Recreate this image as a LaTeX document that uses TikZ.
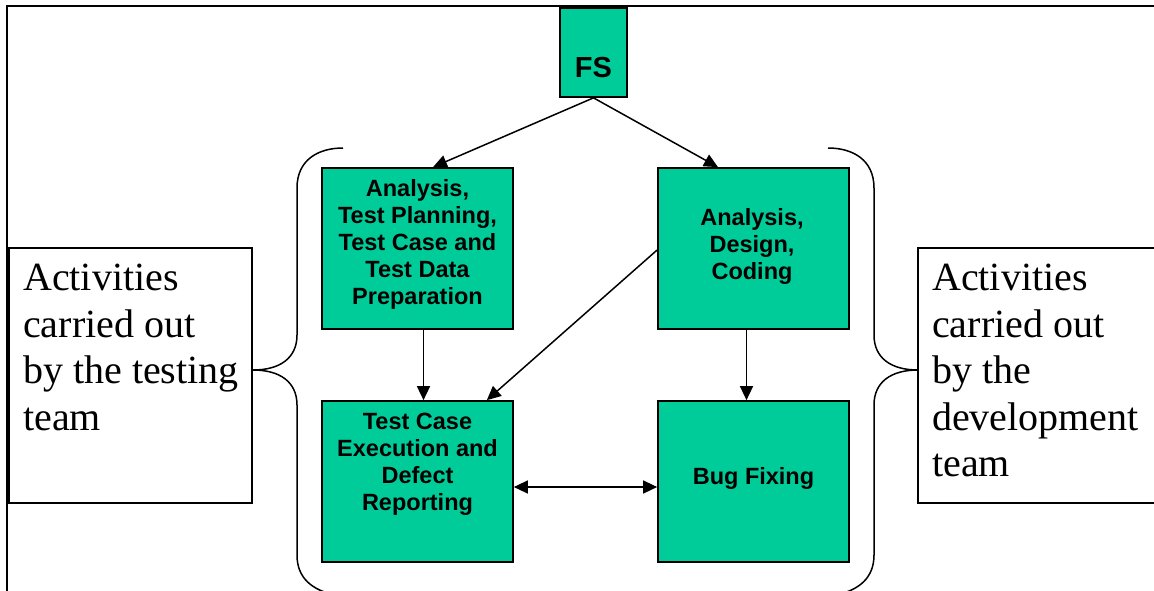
\documentclass[tikz,border=0pt]{standalone}
\usepackage{fontspec}
\setmainfont{Liberation Serif}
\newfontfamily\arialfont{Liberation Sans}
\usetikzlibrary{arrows.meta,calc}
\definecolor{boxgreen}{RGB}{0,204,153}
\begin{document}
\begin{tikzpicture}[x=1pt,y=-1pt,
  proc/.style={draw=black, line width=1.7pt, fill=boxgreen, minimum width=191pt, minimum height=161pt, inner sep=0pt},
  proctext/.style={font=\arialfont\bfseries\fontsize{23.5}{27}\selectfont, align=center, inner sep=0pt},
  fstext/.style={font=\arialfont\bfseries\fontsize{29}{32}\selectfont, inner sep=0pt},
  tbox/.style={draw=black, line width=1.5pt, fill=white, inner sep=0pt},
  ttext/.style={font=\fontsize{40}{46.5}\selectfont, align=left, inner sep=0pt, anchor=north west},
  conn/.style={line width=1.5pt, -{Triangle[length=14pt,width=13pt]}},
  dconn/.style={line width=1.5pt, {Triangle[length=14pt,width=13pt]}-{Triangle[length=14pt,width=13pt]}},
  bracepath/.style={line width=1.5pt}
]
\useasboundingbox (0,0) rectangle (1154,590);
\clip (0,0) rectangle (1154,590);
\fill[white] (0,0) rectangle (1154,590);
\draw[line width=2pt] (7,620) -- (7,6) -- (1180,6);

% process boxes
\node[proc, minimum width=67pt, minimum height=89pt] (fs) at (593.5,52.5) {};
\node[fstext] (fst) at (593.5,68) {FS};

\node[proc] (a) at (417.5,248.5) {};
\node[proctext] (at) at (417.5,244) {Analysis,\\Test Planning,\\Test Case and\\Test Data\\Preparation};

\node[proc] (b) at (753.5,248.5) {};
\node[proctext] (bt) at (752,246) {Analysis,\\Design,\\Coding};

\node[proc] (c) at (417.5,481.5) {};
\node[proctext] (ct) at (417.5,464.5) {Test Case\\Execution and\\Defect\\Reporting};

\node[proc] (d) at (753.5,481.5) {};
\node[proctext] (dt) at (753.5,478) {Bug Fixing};

% side text boxes
\node[tbox, minimum width=243pt, minimum height=255pt] (lbox) at (130.5,375.5) {};
\node[ttext] (ltxt) at (23,264) {Activities\\carried out\\by the testing\\team};

\node[tbox, minimum width=260pt, minimum height=255pt] (rbox) at (1048,375.5) {};
\node[ttext] (rtxt) at (932,264) {Activities\\carried out\\by the\\development\\team};

% braces
\draw[bracepath] (343,148) .. controls (318,148) and (297,160) .. (297,188) -- (297,335)
  .. controls (297,358) and (280,370) .. (253,370)
  .. controls (280,370) and (297,382) .. (297,405) -- (297,555)
  .. controls (297,578) and (312,590) .. (335,595);
\draw[bracepath] (828,148) .. controls (853,148) and (874,160) .. (874,188) -- (874,335)
  .. controls (874,358) and (891,370) .. (918,370)
  .. controls (891,370) and (874,382) .. (874,405) -- (874,555)
  .. controls (874,578) and (859,590) .. (836,595);

% connectors
\draw[conn] (fs.south) -- ([xshift=15.5pt]a.north);
\draw[conn] (fs.south) -- ([xshift=-35.5pt]b.north);
\draw[conn] ([xshift=6pt]a.south) -- ([xshift=6pt]c.north);
\draw[conn] ([yshift=-1.5pt]b.west) -- ([xshift=-27pt]c.north east);
\draw[conn] ([xshift=-7pt]b.south) -- ([xshift=-7pt]d.north);
\draw[dconn] ([yshift=-5.5pt]c.east) -- ([yshift=-5.5pt]d.west);
\end{tikzpicture}
\end{document}
